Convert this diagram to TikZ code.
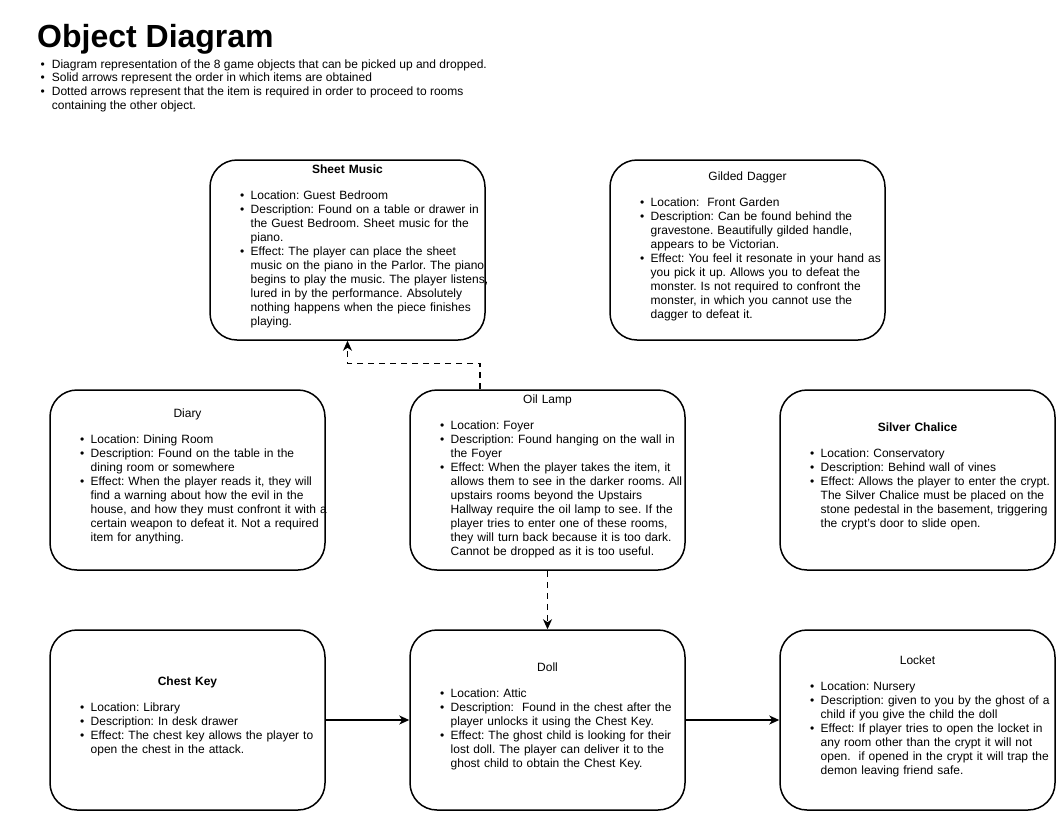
\documentclass[tikz,border=0pt]{standalone}
\usepackage{fontspec}
\setmainfont{Liberation Sans}
\usetikzlibrary{arrows.meta}
\frenchspacing

\newcommand{\objtext}[2]{\centering#1\par\vspace{11.5pt}\raggedright\hspace*{22pt}\begin{tabular}[t]{@{}l@{\hspace{6.5pt}}l@{}}#2\end{tabular}\par\vspace{6pt}\hrule height 0pt}

\begin{document}
\begin{tikzpicture}[x=1pt,y=1pt,
	obj/.style={draw, line width=1.5pt, rounded corners=27pt, minimum width=275pt, minimum height=180pt, text width=259pt, inner xsep=8pt, inner ysep=0pt, font=\fontsize{12}{14}\selectfont},
	seq/.style={line width=1.5pt, -{Stealth[length=10pt,width=9pt,inset=3pt]}},
	req/.style={seq, dash pattern=on 6pt off 5pt}]
	\useasboundingbox (0,0) rectangle (1057,-812);
	
	\node[anchor=base west, inner sep=0pt, font=\fontsize{32}{36}\selectfont\bfseries] (title) at (37,-47) {Object Diagram};
	\node[anchor=north west, inner sep=0pt, font=\fontsize{12}{13.7}\selectfont] (notes) at (40.5,-58.5) {\begin{tabular}{@{}l@{\hspace{7pt}}l@{}}
		\textbullet & Diagram representation of the 8 game objects that can be picked up and dropped.\\
		\textbullet & Solid arrows represent the order in which items are obtained\\
		\textbullet & Dotted arrows represent that the item is required in order to proceed to rooms\\
		& containing the other object.
	\end{tabular}};
	
	\node[obj] (sheet) at (347.5,-250) {\objtext{\textbf{Sheet Music}}{
		\textbullet & Location: Guest Bedroom\\
		\textbullet & Description: Found on a table or drawer in\\
		& the Guest Bedroom. Sheet music for the\\
		& piano.\\
		\textbullet & Effect: The player can place the sheet\\
		& music on the piano in the Parlor. The piano\\
		& begins to play the music. The player listens,\\
		& lured in by the performance. Absolutely\\
		& nothing happens when the piece finishes\\
		& playing.}};
	\node[obj] (dagger) at (747.5,-250) {\objtext{Gilded Dagger}{
		\textbullet & Location:\ \ Front Garden\\
		\textbullet & Description: Can be found behind the\\
		& gravestone. Beautifully gilded handle,\\
		& appears to be Victorian.\\
		\textbullet & Effect: You feel it resonate in your hand as\\
		& you pick it up. Allows you to defeat the\\
		& monster. Is not required to confront the\\
		& monster, in which you cannot use the\\
		& dagger to defeat it.}};
	\node[obj] (diary) at (187.5,-480) {\objtext{Diary}{
		\textbullet & Location: Dining Room\\
		\textbullet & Description: Found on the table in the\\
		& dining room or somewhere\\
		\textbullet & Effect: When the player reads it, they will\\
		& find a warning about how the evil in the\\
		& house, and how they must confront it with a\\
		& certain weapon to defeat it. Not a required\\
		& item for anything.}};
	\node[obj] (lamp) at (547.5,-480) {\objtext{Oil Lamp}{
		\textbullet & Location: Foyer\\
		\textbullet & Description: Found hanging on the wall in\\
		& the Foyer\\
		\textbullet & Effect: When the player takes the item, it\\
		& allows them to see in the darker rooms. All\\
		& upstairs rooms beyond the Upstairs\\
		& Hallway require the oil lamp to see. If the\\
		& player tries to enter one of these rooms,\\
		& they will turn back because it is too dark.\\
		& Cannot be dropped as it is too useful.}};
	\node[obj] (chalice) at (917.5,-480) {\objtext{\textbf{Silver Chalice}}{
		\textbullet & Location: Conservatory\\
		\textbullet & Description: Behind wall of vines\\
		\textbullet & Effect: Allows the player to enter the crypt.\\
		& The Silver Chalice must be placed on the\\
		& stone pedestal in the basement, triggering\\
		& the crypt's door to slide open.}};
	\node[obj] (key) at (187.5,-720) {\objtext{\textbf{Chest Key}}{
		\textbullet & Location: Library\\
		\textbullet & Description: In desk drawer\\
		\textbullet & Effect: The chest key allows the player to\\
		& open the chest in the attack.}};
	\node[obj] (doll) at (547.5,-720) {\objtext{Doll}{
		\textbullet & Location: Attic\\
		\textbullet & Description:\ \ Found in the chest after the\\
		& player unlocks it using the Chest Key.\\
		\textbullet & Effect: The ghost child is looking for their\\
		& lost doll. The player can deliver it to the\\
		& ghost child to obtain the Chest Key.}};
	\node[obj] (locket) at (917.5,-720) {\objtext{Locket}{
		\textbullet & Location: Nursery\\
		\textbullet & Description: given to you by the ghost of a\\
		& child if you give the child the doll\\
		\textbullet & Effect: If player tries to open the locket in\\
		& any room other than the crypt it will not\\
		& open.\ \ if opened in the crypt it will trap the\\
		& demon leaving friend safe.}};
	
	\draw[req] ([xshift=-67.5pt]lamp.north) -- ++(0,26) -| (sheet.south);
	\draw[req] (lamp) -- (doll);
	\draw[seq] (key) -- (doll);
	\draw[seq] (doll) -- (locket);
\end{tikzpicture}
\end{document}
